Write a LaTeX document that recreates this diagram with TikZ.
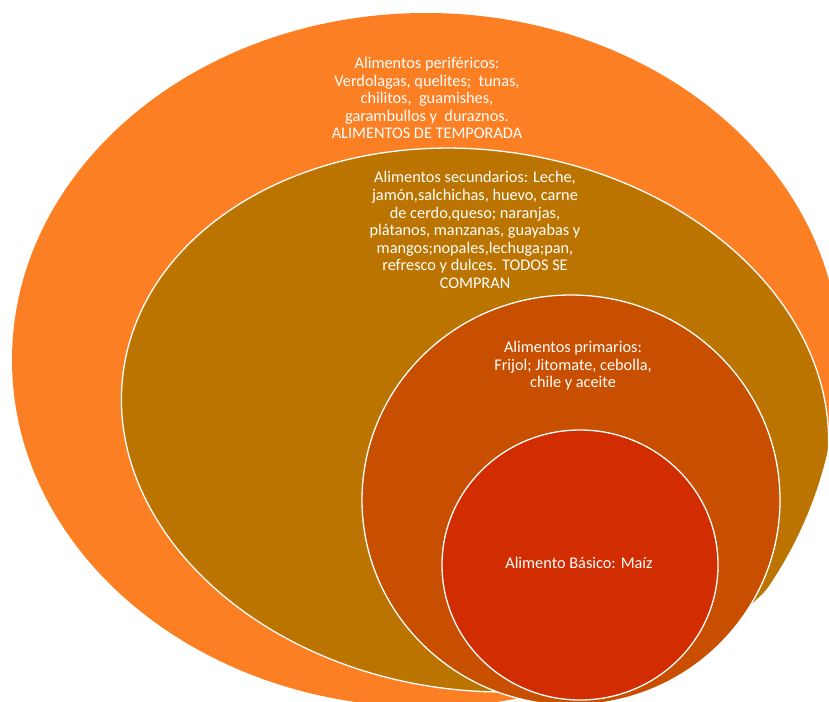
\documentclass[tikz,border=0pt]{standalone}
\usepackage{fontspec}
\setmainfont{Carlito}
\definecolor{cOuter}{RGB}{253,127,35}
\definecolor{cSec}{RGB}{187,116,0}
\definecolor{cPri}{RGB}{200,78,0}
\definecolor{cBas}{RGB}{209,45,0}
\begin{document}
\begin{tikzpicture}[x=1pt,y=-1pt,
  ring/.style={fill=#1, draw=white, line width=1.3pt},
  lbl/.style={text=white, align=center, font=\fontsize{16.3}{17.6}\selectfont, inner sep=0pt}]
\useasboundingbox (0,0) rectangle (829,701);
\begin{scope}
\clip (425,360) ellipse [x radius=413, y radius=408];
\fill[cOuter] (426,360) ellipse [x radius=414, y radius=347];
\draw[ring=cSec, rotate around={-8:(475,420)}] (475,420) ellipse [x radius=355, y radius=270];
\draw[ring=cPri] (571,500) ellipse [x radius=209, y radius=205];
\draw[ring=cBas] (580,565) ellipse [x radius=138, y radius=135];
\end{scope}
\node[lbl] (per) at (427,98) {Alimentos periféricos:\\Verdolagas, quelites;~ tunas,\\chilitos,~ guamishes,\\garambullos y~ duraznos.\\ALIMENTOS DE TEMPORADA};
\node[lbl] (sec) at (475,230) {Alimentos secundarios: Leche,\\jamón,salchichas, huevo, carne\\de cerdo,queso; naranjas,\\plátanos, manzanas, guayabas y\\mangos;nopales,lechuga;pan,\\refresco y dulces. TODOS SE\\COMPRAN};
\node[lbl] (pri) at (573,366) {Alimentos primarios:\\Frijol; Jitomate, cebolla,\\chile y aceite};
\node[lbl] (bas) at (579,563) {Alimento Básico: Maíz};
\end{tikzpicture}
\end{document}
